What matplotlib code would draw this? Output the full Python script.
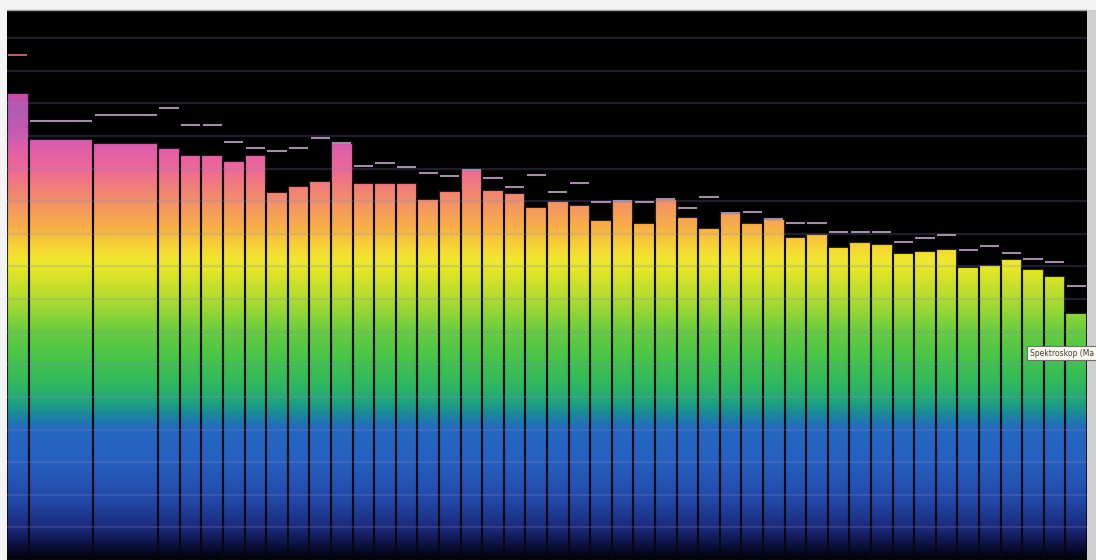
import numpy as np
import matplotlib
matplotlib.use("Agg")
import matplotlib.pyplot as plt
from matplotlib.colors import LinearSegmentedColormap
from matplotlib.path import Path
from matplotlib.patches import Rectangle

# ---------------- data ----------------
band_span = [1, 3, 3] + [1] * 43          # width of each frequency band (in band units)
levels = [71.6, 64.5, 63.9, 63.1, 62.0, 62.0, 61.1, 62.0, 56.4, 57.4,
          58.1, 63.9, 57.8, 57.8, 57.8, 55.3, 56.5, 59.8, 56.7, 56.2,
          54.1, 55.0, 54.4, 52.1, 55.0, 51.6, 55.3, 52.5, 50.9, 53.2,
          51.6, 52.2, 49.5, 49.9, 47.9, 48.7, 48.4, 47.0, 47.3, 47.6,
          44.9, 45.2, 46.1, 44.6, 43.6, 37.8]
peaks = [77.4, 67.3, 68.2, 69.3, 66.6, 66.6, 64.0, 63.1, 62.7, 63.1,
         64.7, 63.9, 60.4, 60.9, 60.2, 59.3, 58.8, 59.8, 58.5, 57.1,
         59.0, 56.4, 57.8, 54.8, 55.0, 54.8, 55.3, 53.9, 55.6, 53.2,
         53.3, 52.2, 51.6, 51.6, 50.2, 50.2, 50.2, 48.7, 49.3, 49.8,
         47.5, 48.1, 47.0, 46.1, 45.6, 42.0]
grid_levels = list(range(5, 85, 5))
tick_levels = list(range(10, 90, 10))
tooltip = "Spektroskop (Ma"

YMAX = 84.3
XMAX = sum(band_span)

# ---------------- figure ----------------
W, H = 1096, 560
fig = plt.figure(figsize=(W / 100, H / 100), dpi=100, facecolor="#f3f3f3")
ax = fig.add_axes([7 / W, 0, 1080 / W, 550 / H])
ax.set_facecolor("black")
ax.set_xlim(0, XMAX)
ax.set_ylim(0, YMAX)

# gradient colormap (by level)
stops = [
    (0.0, "#02020a"), (1.5, "#080c30"), (4.5, "#1a2878"), (9.0, "#2248a8"),
    (15.0, "#2660c0"), (20.0, "#2468c0"), (22.5, "#1a8c98"), (24.5, "#20a878"),
    (27.0, "#30b860"), (31.0, "#48c448"), (35.0, "#68cc40"), (40.0, "#b0dc30"),
    (44.0, "#e0e428"), (46.0, "#f0e830"), (48.5, "#f8d038"), (51.0, "#f8b048"),
    (54.0, "#f59860"), (57.0, "#f08078"), (60.0, "#f06898"), (63.0, "#e060a8"),
    (66.0, "#c858b0"), (69.0, "#b05cb4"), (72.0, "#d048a4"), (YMAX, "#d040a0"),
]
cmap = LinearSegmentedColormap.from_list(
    "spec", [(v / YMAX, c) for v, c in stops])

lefts = np.concatenate([[0], np.cumsum(band_span)[:-1]])
bars = ax.bar(lefts, levels, width=band_span, align="edge",
              facecolor="none", edgecolor=(0.03, 0.03, 0.05, 0.85),
              linewidth=1.5, zorder=3)

grad = np.linspace(0, YMAX, 600)[:, None]
im = ax.imshow(grad, cmap=cmap, extent=[0, XMAX, 0, YMAX], origin="lower",
               aspect="auto", interpolation="bilinear", zorder=2)
paths = [p.get_path().transformed(p.get_patch_transform()) for p in bars]
clip = Path.make_compound_path(*paths)
im.set_clip_path(clip, ax.transData)

# grid lines drawn over the bars
for g in grid_levels:
    ax.axhline(g, color="#8a86c0", alpha=0.22, lw=1.6, zorder=4)

# peak-hold markers
rights = lefts + np.array(band_span)
pk_colors = ["#c05a5a"] + ["#a38ca6"] * (len(peaks) - 1)
ax.hlines(peaks, lefts + 0.06, rights - 0.06, colors=pk_colors, lw=1.5, zorder=5)

ax.set_xticks([])
ax.set_yticks(tick_levels)
ax.yaxis.tick_right()
ax.tick_params(axis="y", direction="out", length=3, width=1, color="#8a8a8a",
               labelright=False, labelleft=False)
for s in ["left", "bottom", "right"]:
    ax.spines[s].set_visible(False)
ax.spines["top"].set_color("#a0a0a0")
ax.spines["top"].set_linewidth(1.0)

# right gray strip
fig.patches.append(Rectangle((1087 / W, 0), 9 / W, 550 / H,
                             transform=fig.transFigure, facecolor="#cfcfcf",
                             edgecolor="none", zorder=0))

# tooltip
fig.text(1030 / W, (560 - 353) / H, tooltip, fontsize=5.5, color="#404040",
         va="center", ha="left",
         bbox=dict(boxstyle="square,pad=0.35", facecolor="#f8f8ec",
                   edgecolor="#707070", linewidth=0.8), zorder=10)

fig.savefig("out.png", dpi=100, facecolor=fig.get_facecolor())
